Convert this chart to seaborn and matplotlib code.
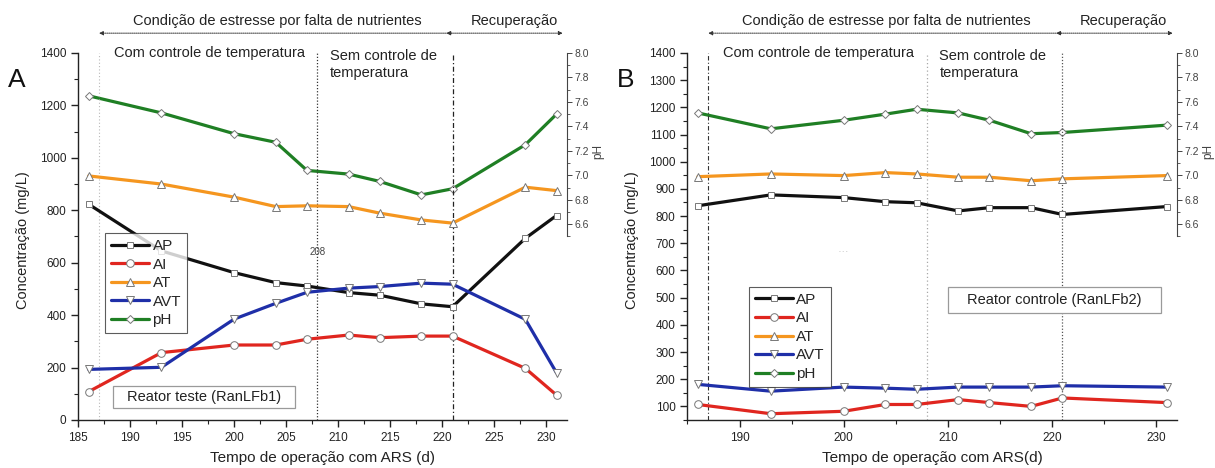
import numpy as np
import pandas as pd
import matplotlib
matplotlib.use("Agg")
import matplotlib.pyplot as plt
from matplotlib.lines import Line2D
from matplotlib.patches import Rectangle
from matplotlib.ticker import MultipleLocator
import seaborn as sns

sns.set_theme(style="ticks")
plt.rcParams['font.family'] = ['Liberation Sans', 'DejaVu Sans']

# ---- Reactor test (RanLFb1) ----
days_a = [186, 193, 200, 204, 207, 211, 214, 218, 221, 228, 231]
ap_a = [823, 645, 562, 524, 511, 486, 476, 443, 432, 693, 780]
ai_a = [108, 257, 286, 286, 308, 324, 314, 320, 320, 197, 95]
at_a = [931, 900, 850, 814, 817, 814, 789, 763, 751, 888, 875]
avt_a = [193, 201, 385, 445, 487, 503, 509, 522, 518, 384, 180]
ph_a = [7.65, 7.51, 7.34, 7.27, 7.04, 7.01, 6.95, 6.84, 6.89, 7.25, 7.50]

# ---- Reactor control (RanLFb2) ----
days_b = [186, 193, 200, 204, 207, 211, 214, 218, 221, 231]
ap_b = [838, 878, 868, 853, 849, 819, 831, 831, 806, 835]
ai_b = [107, 73, 82, 107, 107, 125, 114, 100, 131, 114]
at_b = [945, 955, 949, 960, 955, 943, 943, 930, 937, 949]
avt_b = [181, 156, 171, 167, 163, 171, 171, 171, 176, 171]
ph_b = [7.51, 7.38, 7.45, 7.50, 7.54, 7.51, 7.45, 7.34, 7.35, 7.41]

series_names = ["AP", "AI", "AT", "AVT", "pH"]
colors = {"AP": "#111111", "AI": "#e0261f", "AT": "#f5961f",
          "AVT": "#1f2fa8", "pH": "#1f7f24"}
markers = {"AP": "s", "AI": "o", "AT": "^", "AVT": "v", "pH": "D"}
msizes = {"AP": 5, "AI": 5.5, "AT": 6, "AVT": 6, "pH": 3.8}

TXT = "#222222"
FS = 10.5

fig = plt.figure(figsize=(12.15, 4.68), dpi=100)
ax_a = fig.add_axes([0.0644, 0.1026, 0.4022, 0.7842])
ax_b = fig.add_axes([0.5658, 0.1026, 0.4029, 0.7842])


def draw_series(ax, x, y, name):
    df = pd.DataFrame({"x": x, "y": y})
    sns.lineplot(data=df, x="x", y="y", ax=ax, color=colors[name],
                 linewidth=2.3, marker=markers[name], markersize=msizes[name],
                 markerfacecolor="white", markeredgecolor="#777777",
                 markeredgewidth=0.7, zorder=3)


def panel(ax, days, ap, ai, at, avt, ph, ylim, ymajor, yminor, letter,
          vstyles, legend_pos, box_text, box_rect, xlabel):
    for name, vals in zip(series_names[:4], [ap, ai, at, avt]):
        draw_series(ax, days, vals, name)
    ax2 = ax.twinx()
    draw_series(ax2, days, ph, "pH")

    ax.set_xlim(185, 232)
    ax.set_ylim(*ylim)
    ax2.set_ylim(5.0, 8.0)
    ax.set_zorder(ax2.get_zorder() + 1)
    ax.patch.set_visible(False)

    # vertical phase markers
    for xv, (ls, col, lw) in zip([187, 208, 221], vstyles):
        ax.vlines(xv, ylim[0], ylim[1], linestyles=ls, colors=col,
                  linewidth=lw, zorder=2)

    ax.xaxis.set_major_locator(MultipleLocator(5 if letter == "A" else 10))
    ax.xaxis.set_minor_locator(MultipleLocator(2.5 if letter == "A" else 5))
    ax.yaxis.set_major_locator(MultipleLocator(ymajor))
    ax.yaxis.set_minor_locator(MultipleLocator(yminor))
    ax.tick_params(axis="both", which="major", direction="out", length=5,
                   width=1, labelsize=8.5, color=TXT, labelcolor=TXT)
    ax.tick_params(axis="both", which="minor", direction="out", length=3,
                   width=0.8, color=TXT)
    ax.tick_params(axis="y", which="both", right=False)

    for sp in ["top", "right"]:
        ax.spines[sp].set_visible(False)
    for sp in ["left", "bottom"]:
        ax.spines[sp].set_color(TXT)
        ax.spines[sp].set_linewidth(1.0)

    ax2.spines["top"].set_visible(False)
    ax2.spines["left"].set_visible(False)
    ax2.spines["bottom"].set_visible(False)
    ax2.spines["right"].set_bounds(6.5, 8.0)
    ax2.spines["right"].set_color("#444444")
    ax2.spines["right"].set_linewidth(0.8)
    ax2.set_yticks(np.round(np.arange(6.6, 8.01, 0.2), 1))
    ax2.set_yticks(np.round(np.arange(6.5, 8.01, 0.1), 1), minor=True)
    ax2.tick_params(axis="y", which="major", direction="out", length=3.5,
                    width=0.7, labelsize=7.5, color="#444444",
                    labelcolor="#444444", pad=2)
    ax2.tick_params(axis="y", which="minor", direction="out", length=2,
                    width=0.6, color="#444444")
    ax2.set_ylabel("pH", fontsize=8.5, color="#444444", rotation=90)
    ax2.yaxis.set_label_coords(1.052, 0.731)

    ax.set_xlabel(xlabel, fontsize=11, labelpad=5, color=TXT)
    ax.set_ylabel("Concentração (mg/L)", fontsize=10.5, color=TXT)
    ax.yaxis.set_label_coords(-0.099, 0.49)

    # legend with all five series
    handles = [Line2D([], [], color=colors[n], lw=2.3, marker=markers[n],
                      markersize=msizes[n], markerfacecolor="white",
                      markeredgecolor="#777777", markeredgewidth=0.7)
               for n in series_names]
    leg = ax.legend(handles, series_names, loc="upper left",
                    bbox_to_anchor=legend_pos, frameon=True, fancybox=False,
                    fontsize=11, handlelength=2.5, handletextpad=0.2,
                    labelspacing=0.3, borderpad=0.4, borderaxespad=0)
    leg.get_frame().set_edgecolor("#333333")
    leg.get_frame().set_linewidth(0.8)
    leg.set_zorder(10)

    # reactor name box
    x0, y0, x1, y1 = box_rect
    ax.add_patch(Rectangle((x0, y0), x1 - x0, y1 - y0, transform=ax.transAxes,
                           facecolor="white", edgecolor="#9a9a9a", lw=0.9,
                           zorder=11))
    ax.text((x0 + x1) / 2, (y0 + y1) / 2, box_text, transform=ax.transAxes,
            ha="center", va="center", fontsize=FS, color=TXT, zorder=12)

    # phase annotations above the plot
    trans = ax.get_xaxis_transform()
    arrow_y = 1.054
    dotted = dict(arrowstyle="-|>", color="#333333", lw=0.7,
                  linestyle=(0, (1, 1)), mutation_scale=6, shrinkA=0, shrinkB=0)
    ax.annotate("", xy=(187, arrow_y), xytext=(220.4, arrow_y), xycoords=trans,
                textcoords=trans, annotation_clip=False, arrowprops=dotted)
    ax.annotate("", xy=(220.4, arrow_y), xytext=(220.9, arrow_y), xycoords=trans,
                textcoords=trans, annotation_clip=False,
                arrowprops=dict(arrowstyle="-|>", color="#333333", lw=0.7,
                                mutation_scale=6, shrinkA=0, shrinkB=0))
    ax.annotate("", xy=(231.6, arrow_y), xytext=(220.9, arrow_y), xycoords=trans,
                textcoords=trans, annotation_clip=False, arrowprops=dotted)
    ax.text(204.1, 1.088, "Condição de estresse por falta de nutrientes",
            transform=trans, ha="center", va="center", fontsize=FS, color=TXT)
    ax.text(226.9, 1.088, "Recuperação", transform=trans, ha="center",
            va="center", fontsize=FS, color=TXT)
    ax.text(188.4, 1.0, "Com controle de temperatura", transform=trans,
            ha="left", va="center", fontsize=FS, color=TXT)
    ax.text(209.2, 1.012, "Sem controle de\ntemperatura", transform=trans,
            ha="left", va="top", fontsize=FS, color=TXT, linespacing=1.3)

    fig.text(ax.get_position().x0 - 0.058, 0.828, letter, fontsize=19,
             color="#111111", ha="left", va="center")
    return ax2


panel(ax_a, days_a, ap_a, ai_a, at_a, avt_a, ph_a, (0, 1400), 200, 100, "A",
      [((0, (1, 2)), "#b8b8b8", 0.8), ((0, (1, 1.5)), "#333333", 0.9),
       ((0, (4, 2, 1, 2)), "#222222", 0.9)],
      (0.055, 0.51), "Reator teste (RanLFb1)", (0.0708, 0.0327, 0.4442, 0.0927),
      "Tempo de operação com ARS (d)")
ax_a.text(208, 640, "208", fontsize=7, color="#444444", ha="center",
          va="center")

panel(ax_b, days_b, ap_b, ai_b, at_b, avt_b, ph_b, (50, 1400), 100, 50, "B",
      [((0, (4, 2, 1, 2)), "#333333", 0.8), ((0, (1, 2)), "#a8a8a8", 0.9),
       ((0, (1, 1.5)), "#555555", 0.9)],
      (0.125, 0.3635), "Reator controle (RanLFb2)", (0.533, 0.2918, 0.967, 0.3627),
      "Tempo de operação com ARS(d)")
ax_b.text(200, 668, "- - -", fontsize=4, color="#aaaaaa", ha="center",
          va="center")

fig.savefig("out.png", dpi=100)
